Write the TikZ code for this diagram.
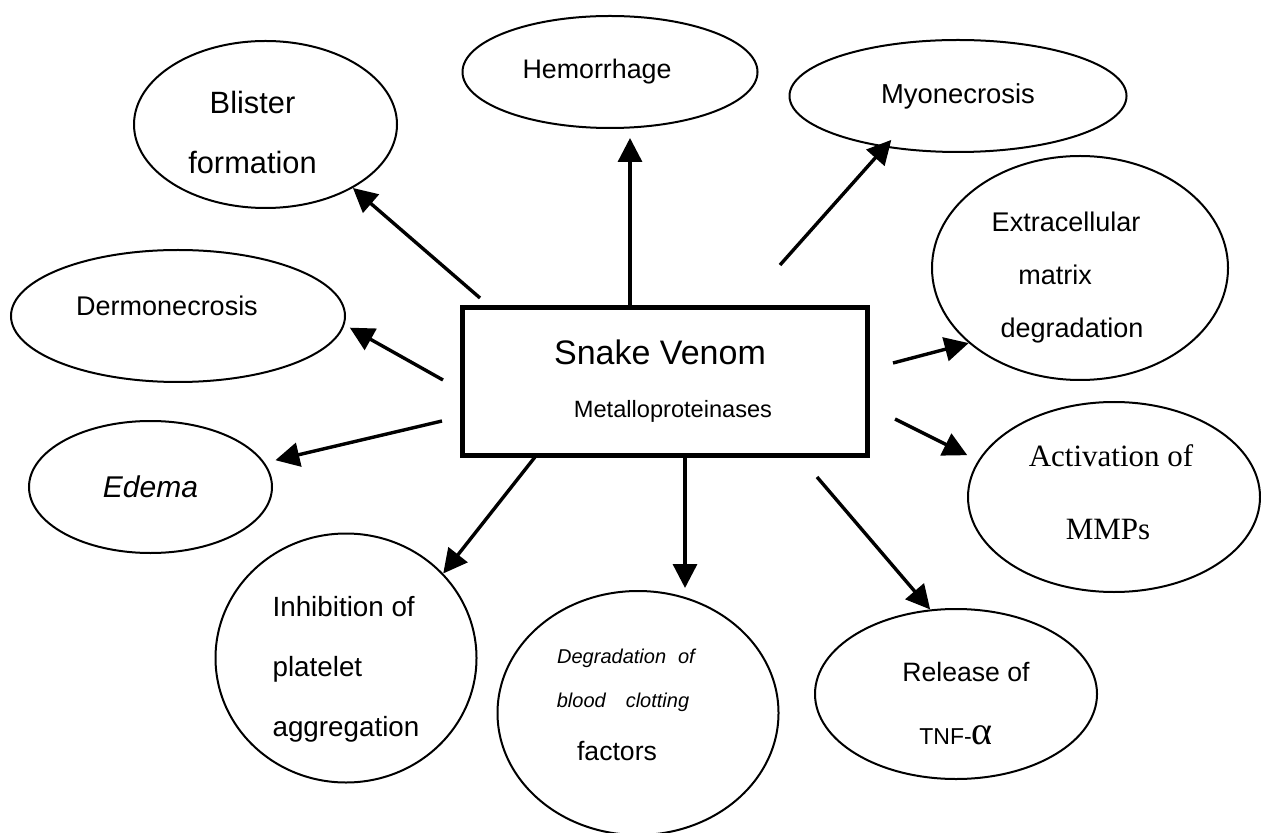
\documentclass[tikz,border=0pt]{standalone}
\usepackage{fontspec}
\setmainfont{Liberation Sans}
\newfontfamily\serifface{Liberation Serif}
\usetikzlibrary{arrows.meta,positioning,shapes.geometric,calc}
\tikzset{
  effect/.style={
    draw, ellipse, line width=1pt, inner sep=0pt,
    align=center, font=\fontsize{13.5}{30}\selectfont
  },
  venombox/.style={
    draw, rectangle, line width=2.5pt, inner sep=0pt,
    align=center, font=\fontsize{11.8}{26.5}\selectfont
  },
  arrow/.style={-{Triangle[length=12pt,width=12pt]}, line width=1.7pt}
}

\begin{document}
\begin{tikzpicture}[x=0.5pt,y=-0.5pt]
  \path[use as bounding box, fill=white] (0,0) rectangle (1261,833);
  % centre box
  \node[venombox, minimum width=202.5pt, minimum height=74pt] (svmp) at (665,381.5)
    {{\fontsize{17}{26.5}\selectfont Snake Venom}\hspace*{5pt}\null\\\hspace*{8pt}Metalloproteinases};
  % effects round the box
  \node[effect, minimum width=131.5pt, minimum height=83.5pt, font=\fontsize{15.4}{30}\selectfont] (blister) at (265.5,124.5)
    {\rule{0pt}{19pt}Blister\hspace*{13pt}\null\\formation\hspace*{13pt}\null};
  \node[effect, minimum width=147.5pt, minimum height=56pt, font=\fontsize{13.4}{30}\selectfont] (hem) at (610,72) {Hemorrhage\hspace*{13pt}\null};
  \node[effect, minimum width=168.5pt, minimum height=56pt, font=\fontsize{13.7}{30}\selectfont] (myo) at (958,96) {Myonecrosis};
  \node[effect, minimum width=148pt, minimum height=112pt, font=\fontsize{13.5}{26.5}\selectfont] (ecm) at (1080,268)
    {\rule{0pt}{19.7pt}Extracellular\hspace*{14pt}\null\\matrix\hspace*{25pt}\null\\degradation\hspace*{8pt}\null};
  \node[effect, minimum width=167pt, minimum height=66pt] (derm) at (178,316) {Dermonecrosis\hspace*{11pt}\rule[-10pt]{0pt}{10pt}};
  \node[effect, minimum width=121.5pt, minimum height=66pt, font=\fontsize{15}{30}\selectfont\itshape] (edema) at (150.5,487) {Edema};
  \node[effect, minimum width=146pt, minimum height=95pt, font=\fontsize{15.5}{36.5}\selectfont\serifface] (mmp) at (1114,497)
    {Activation of\hspace*{3pt}\null\\MMPs\hspace*{6pt}\rule[-5pt]{0pt}{5pt}};
  \node[effect, minimum width=141pt, minimum height=85pt, font=\fontsize{13.3}{31.5}\selectfont] (tnf) at (956,694)
    {\rule{0pt}{19.5pt}\hspace*{10pt}Release of\\{\fontsize{11.5}{31.5}\selectfont TNF-}{\serifface\fontsize{20}{31.5}\selectfont α}};
  \node[effect, minimum width=140.5pt, minimum height=122pt, font=\fontsize{10}{22}\selectfont\itshape] (deg) at (638,713)
    {Degradation\hspace{6pt}of\hspace*{12pt}\null\\blood\hspace{10pt}clotting\hspace*{15pt}\null\\[4.5pt]{\upshape\fontsize{13.3}{22}\selectfont factors}\hspace*{21pt}\rule[-8pt]{0pt}{8pt}};
  \node[effect, minimum width=130.5pt, minimum height=124.5pt, align=left, font=\fontsize{13.9}{30}\selectfont] (inh) at (346,658)
    {\rule{0pt}{21pt}Inhibition of\\platelet\\aggregation};
  % arrow tails
  \coordinate (t1) at (480,298);
  \coordinate (t2) at (630,307);
  \coordinate (t3) at (780,265);
  \coordinate (t4) at (893,363);
  \coordinate (t5) at (895,419);
  \coordinate (t6) at (817,477);
  \coordinate (t7) at (685,456);
  \coordinate (t8) at (535,457);
  \coordinate (t9) at (442,421);
  \coordinate (t10) at (443,380);
  % arrows
  \draw[arrow] (t1) -- (blister.324);
  \draw[arrow, shorten >=4.5pt] (t2) -- (t2 |- hem.south);
  \draw[arrow, shorten >=-5pt] (t3) -- (myo.215);
  \draw[arrow] (t4) -- (ecm.214);
  \draw[arrow, shorten >=6pt] (t5) -- (mmp.165);
  \draw[arrow] (t6) -- (tnf.107);
  \draw[arrow, shorten >=1pt] (t7) -- (t7 |- deg.north);
  \draw[arrow] (t8) -- (inh.41);
  \draw[arrow, shorten >=5.5pt] (t9) -- (edema.12);
  \draw[arrow, shorten >=3pt] (t10) -- (derm.357);
\end{tikzpicture}
\end{document}
